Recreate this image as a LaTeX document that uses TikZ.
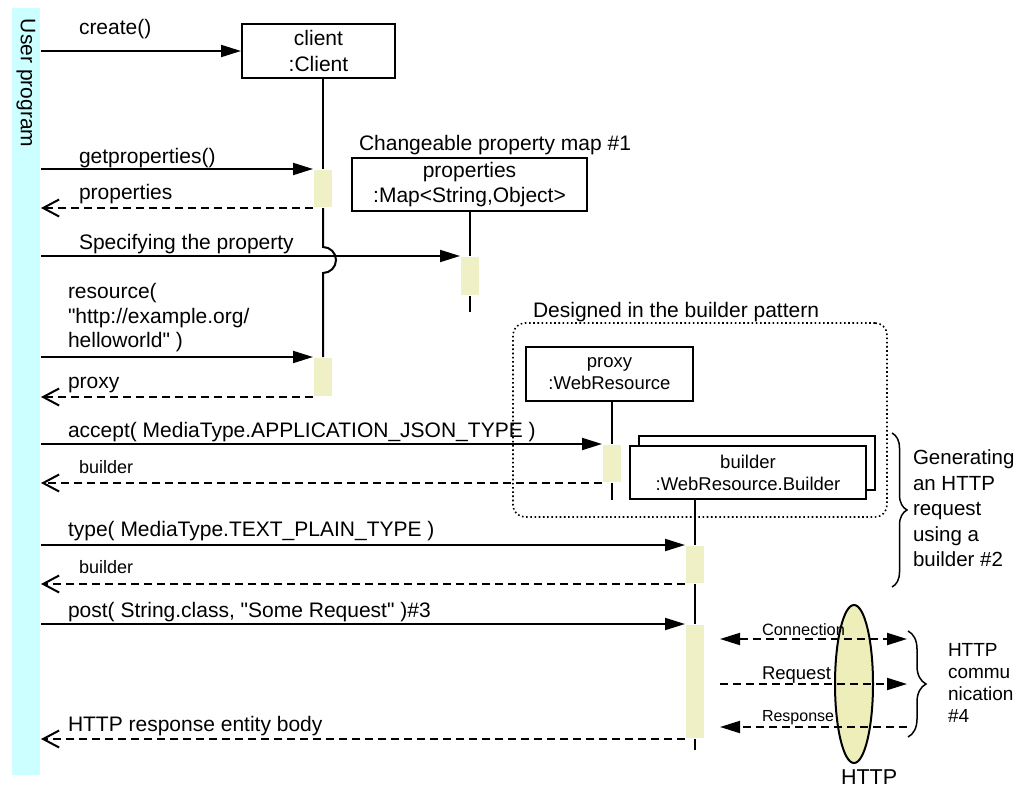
\documentclass[tikz,border=0pt]{standalone}
\usepackage{fontspec}
\setmainfont{Liberation Sans}[Ligatures=TeXOff]
\usetikzlibrary{arrows.meta,shapes.geometric,decorations.pathreplacing}
\definecolor{usercol}{RGB}{204,255,255}
\definecolor{actcol}{RGB}{240,240,198}
\definecolor{httpcol}{RGB}{238,238,187}
\newcommand{\myfs}[2]{\fontsize{#1}{#2}\selectfont}
\begin{document}
\begin{tikzpicture}[x=1pt,y=-1pt,
  line width=2pt,
  lbl/.style={inner sep=0pt, anchor=base west, font=\myfs{21}{25}},
  slbl/.style={inner sep=0pt, anchor=base west, font=\myfs{18}{22}},
  mlbl/.style={inner sep=0pt, anchor=north west, align=left},
  obj/.style={draw, fill=white, inner sep=0pt, align=center, line width=2pt},
  act/.style={fill=actcol, inner sep=0pt, minimum width=18pt, anchor=north},
  msg/.style={-{Triangle[length=20pt,width=12pt]}},
  ret/.style={dash pattern=on 8pt off 5pt, -{Straight Barb[length=16pt,width=17pt]}},
  comm/.style={dash pattern=on 8pt off 5pt},
  bracestyle/.style={decorate, line width=1.5pt},
]
\useasboundingbox (0,0) rectangle (1022,789);

% user program bar
\node[fill=usercol, inner sep=0pt, minimum width=28pt, minimum height=767pt] (user) at (26,391.5) {};
\node[rotate=-90, anchor=west, inner sep=0pt, font=\myfs{21}{25}] (userlbl) at (26,18) {User program};

% objects
\node[obj, minimum width=153pt, minimum height=54pt, font=\myfs{21}{26}] (client) at (318.5,51) {client\\:Client};
\node[obj, minimum width=235pt, minimum height=53pt, font=\myfs{21}{25}] (props) at (469.5,184.5) {properties\\:Map<String,Object>};
\node[lbl] (propslbl) at (358,150) {Changeable property map \#1};

\node[draw, line width=1.6pt, dash pattern=on 1.6pt off 2.6pt, rounded corners=12pt,
      minimum width=374pt, minimum height=194pt, inner sep=0pt] (pattern) at (700,420) {};
\node[lbl] (patternlbl) at (532,317) {Designed in the builder pattern};

\node[obj, minimum width=167pt, minimum height=54pt, font=\myfs{18.5}{22}] (proxy) at (609.5,374) {proxy\\:WebResource};
\node[obj, minimum width=236pt, minimum height=54pt] (builderbk) at (757,463) {};
\node[obj, minimum width=236pt, minimum height=53pt, font=\myfs{18.5}{22}] (builder) at (748,472.5) {builder\\:WebResource.Builder};

% activations
\node[act, minimum height=37pt] (a1) at (323,169) {};
\node[act, minimum height=38pt] (a2) at (323,357) {};
\node[act, minimum height=38pt] (a3) at (470,256) {};
\node[act, minimum height=37pt] (a4) at (612,444) {};
\node[act, minimum height=37pt] (a5) at (695,545) {};
\node[act, minimum height=113pt] (a6) at (695,624) {};

% lifelines
\draw (a1.north |- client.south) -- (a1.north);
\draw (a1.south) -- ++(0,39) arc[start angle=90, end angle=-90, radius=13pt] -- (a2.north);
\draw (a3.north |- props.south) -- (a3.north);
\draw (a3.south) -- ++(0,16);
\draw (a4.north |- proxy.south) -- (a4.north);
\draw (a4.south) -- ++(0,17);
\draw (a5.north |- builder.south) -- (a5.north);
\draw (a5.south) -- (a6.north);
\draw (a6.south) -- ++(0,11);

% messages
\draw[msg] (user.east |- client.west) -- (client.west);
\node[lbl] (m1) at (78,35) {create()};

\draw[msg] (user.east |- a1.north) -- (a1.north west);
\node[lbl] (m2) at (78,163) {getproperties()};
\draw[ret] (a1.south west) -- (user.east |- a1.south);
\node[lbl] (m3) at (78,199) {properties};

\draw[msg] (user.east |- a3.north) -- (a3.north west);
\node[lbl] (m4) at (78,249) {Specifying the property};

\draw[msg] (user.east |- a2.north) -- (a2.north west);
\node[mlbl, font=\myfs{21}{24.5}] (m5) at (67,282.5) {resource(\\"http://example.org/\\helloworld" )};
\draw[ret] (a2.south west) -- (user.east |- a2.south);
\node[lbl] (m6) at (67,388) {proxy};

\draw[msg] (user.east |- a4.north) -- (a4.north west);
\node[lbl] (m7) at (67,437) {accept( MediaType.APPLICATION\_JSON\_TYPE )};
\draw[ret] (a4.south west) -- (user.east |- a4.south);
\node[slbl] (m8) at (78,473) {builder};

\draw[msg] (user.east |- a5.north) -- (a5.north west);
\node[lbl] (m9) at (67,536) {type( MediaType.TEXT\_PLAIN\_TYPE )};
\draw[ret] (a5.south west) -- (user.east |- a5.south);
\node[slbl] (m10) at (78,573) {builder};

\draw[msg] (user.east |- a6.north) -- (a6.north west);
\node[lbl] (m11) at (67,617) {post( String.class, "Some Request" )\#3};
\draw[ret] (a6.south west) -- (user.east |- a6.south);
\node[lbl] (m12) at (67,731) {HTTP response entity body};

% builder brace
\draw[bracestyle, decoration={brace, amplitude=15pt}] (892,433) coordinate (bb1) -- (892,587) coordinate (bb2);
\node[mlbl, font=\myfs{20.5}{25.5}] (gen) at (912,449) {Generating\\an HTTP\\request\\using a\\builder \#2};

% HTTP communication
\node[ellipse, draw, fill=httpcol, minimum width=38pt, minimum height=158pt, inner sep=0pt] (http) at (854,684) {};
\node[lbl, font=\myfs{21.5}{25}] (httplbl) at (840,784) {HTTP};

\coordinate (c1) at (720,639);
\coordinate (c2) at (907,639);
\coordinate (r1) at (720,684);
\coordinate (r2) at (907,684);
\coordinate (s1) at (720,727);
\coordinate (s2) at (907,727);
\draw[comm, {Triangle[length=20pt,width=12pt]}-{Triangle[length=20pt,width=12pt]}] (c1) -- (c2);
\draw[comm, -{Triangle[length=20pt,width=12pt]}] (r1) -- (r2);
\draw[comm, -{Triangle[length=20pt,width=12pt]}] (s2) -- (s1);
\node[lbl, font=\myfs{16.4}{20}] (conn) at (761,635) {Connection};
\node[lbl, font=\myfs{18.5}{22}] (req) at (761,679) {Request};
\node[lbl, font=\myfs{16}{20}] (resp) at (761,721) {Response};

\draw[bracestyle, decoration={brace, amplitude=18pt}] (908,631) coordinate (hb1) -- (908,737) coordinate (hb2);
\node[mlbl, font=\myfs{19}{22}] (httpcomm) at (947,642) {HTTP\\commu\\nication\\\#4};
\end{tikzpicture}
\end{document}
